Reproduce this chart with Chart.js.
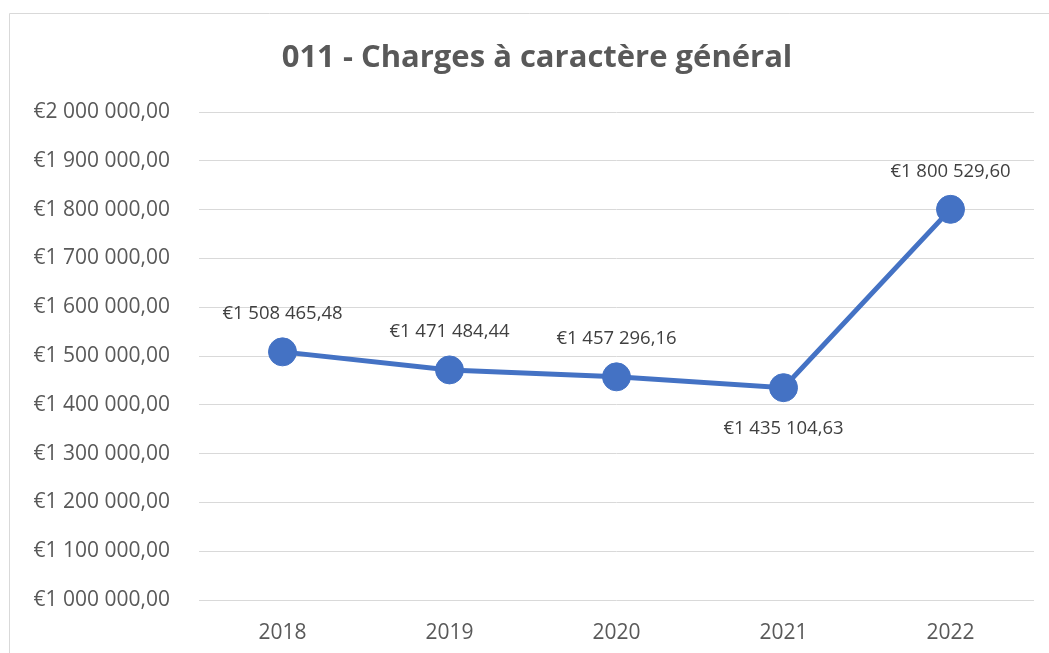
<!DOCTYPE html>
<html>
<head>
<meta charset="utf-8">
<script src="https://cdn.jsdelivr.net/npm/chart.js@4/dist/chart.umd.min.js"></script>
<style>
html,body{margin:0;padding:0;background:#fff;overflow:hidden;}
#wrap{position:relative;width:1049px;height:653px;}
canvas{display:block;}
</style>
</head>
<body>
<div id="wrap"><canvas id="c" width="1049" height="653"></canvas></div>
<script>
const titleText = "011 - Charges à caractère général";
const categories = ["2018", "2019", "2020", "2021", "2022"];
const values = [1508465.48, 1471484.44, 1457296.16, 1435104.63, 1800529.60];
const labelPositions = ["above", "above", "above", "below", "above"];
const yMin = 1000000, yMax = 2000000, yStep = 100000;

function fmtEuro(v) {
  const fixed = Math.abs(v).toFixed(2);
  let [intPart, dec] = fixed.split(".");
  intPart = intPart.replace(/\B(?=(\d{3})+(?!\d))/g, " ");
  return "€" + intPart + "," + dec;
}

const FONT = "'Open Sans', 'Noto Sans', sans-serif";

const framePlugin = {
  id: "frame",
  beforeDraw(chart) {
    const ctx = chart.ctx;
    ctx.save();
    ctx.strokeStyle = "#d9d9d9";
    ctx.lineWidth = 1;
    ctx.beginPath();
    ctx.moveTo(9.5, 653);
    ctx.lineTo(9.5, 13.5);
    ctx.lineTo(1049, 13.5);
    ctx.stroke();
    ctx.fillStyle = "#595959";
    ctx.font = "bold 31px " + FONT;
    ctx.textAlign = "center";
    ctx.textBaseline = "middle";
    ctx.fillText(titleText, 537, 58);
    ctx.restore();
  }
};

const dataLabelPlugin = {
  id: "dataLabels",
  afterDatasetsDraw(chart) {
    const ctx = chart.ctx;
    const meta = chart.getDatasetMeta(0);
    ctx.save();
    ctx.font = "18.5px " + FONT;
    ctx.fillStyle = "#404040";
    ctx.textAlign = "center";
    ctx.textBaseline = "middle";
    meta.data.forEach((pt, i) => {
      const dy = labelPositions[i] === "below" ? 41 : -38;
      ctx.fillText(fmtEuro(values[i]), pt.x, pt.y + dy);
    });
    ctx.restore();
  }
};

new Chart(document.getElementById("c"), {
  type: "line",
  data: {
    labels: categories,
    datasets: [{
      data: values,
      borderColor: "#4472C4",
      backgroundColor: "#4472C4",
      borderWidth: 5,
      pointRadius: 14,
      pointHoverRadius: 14,
      pointBorderWidth: 1,
      pointBackgroundColor: "#4472C4",
      pointBorderColor: "#4472C4",
      tension: 0
    }]
  },
  options: {
    responsive: false,
    animation: false,
    events: [],
    layout: { padding: { left: 0, right: 14, top: 112, bottom: 0 } },
    plugins: {
      legend: { display: false },
      tooltip: { enabled: false },
      title: { display: false }
    },
    scales: {
      x: {
        offset: true,
        grid: { display: false, drawTicks: false },
        border: { display: false },
        ticks: { color: "#595959", font: { family: FONT, size: 21 }, padding: 20 },
        afterFit(scale) { scale.height = 53; scale.paddingLeft = 0; scale.paddingRight = 0; }
      },
      y: {
        min: yMin,
        max: yMax,
        grid: { color: "#d9d9d9", lineWidth: 1, drawTicks: false },
        border: { display: false },
        ticks: {
          stepSize: yStep,
          color: "#595959",
          font: { family: FONT, size: 21 },
          padding: 29,
          callback: (v) => fmtEuro(v)
        },
        afterFit(scale) { scale.width = 199; }
      }
    }
  },
  plugins: [framePlugin, dataLabelPlugin]
});
</script>
</body>
</html>
